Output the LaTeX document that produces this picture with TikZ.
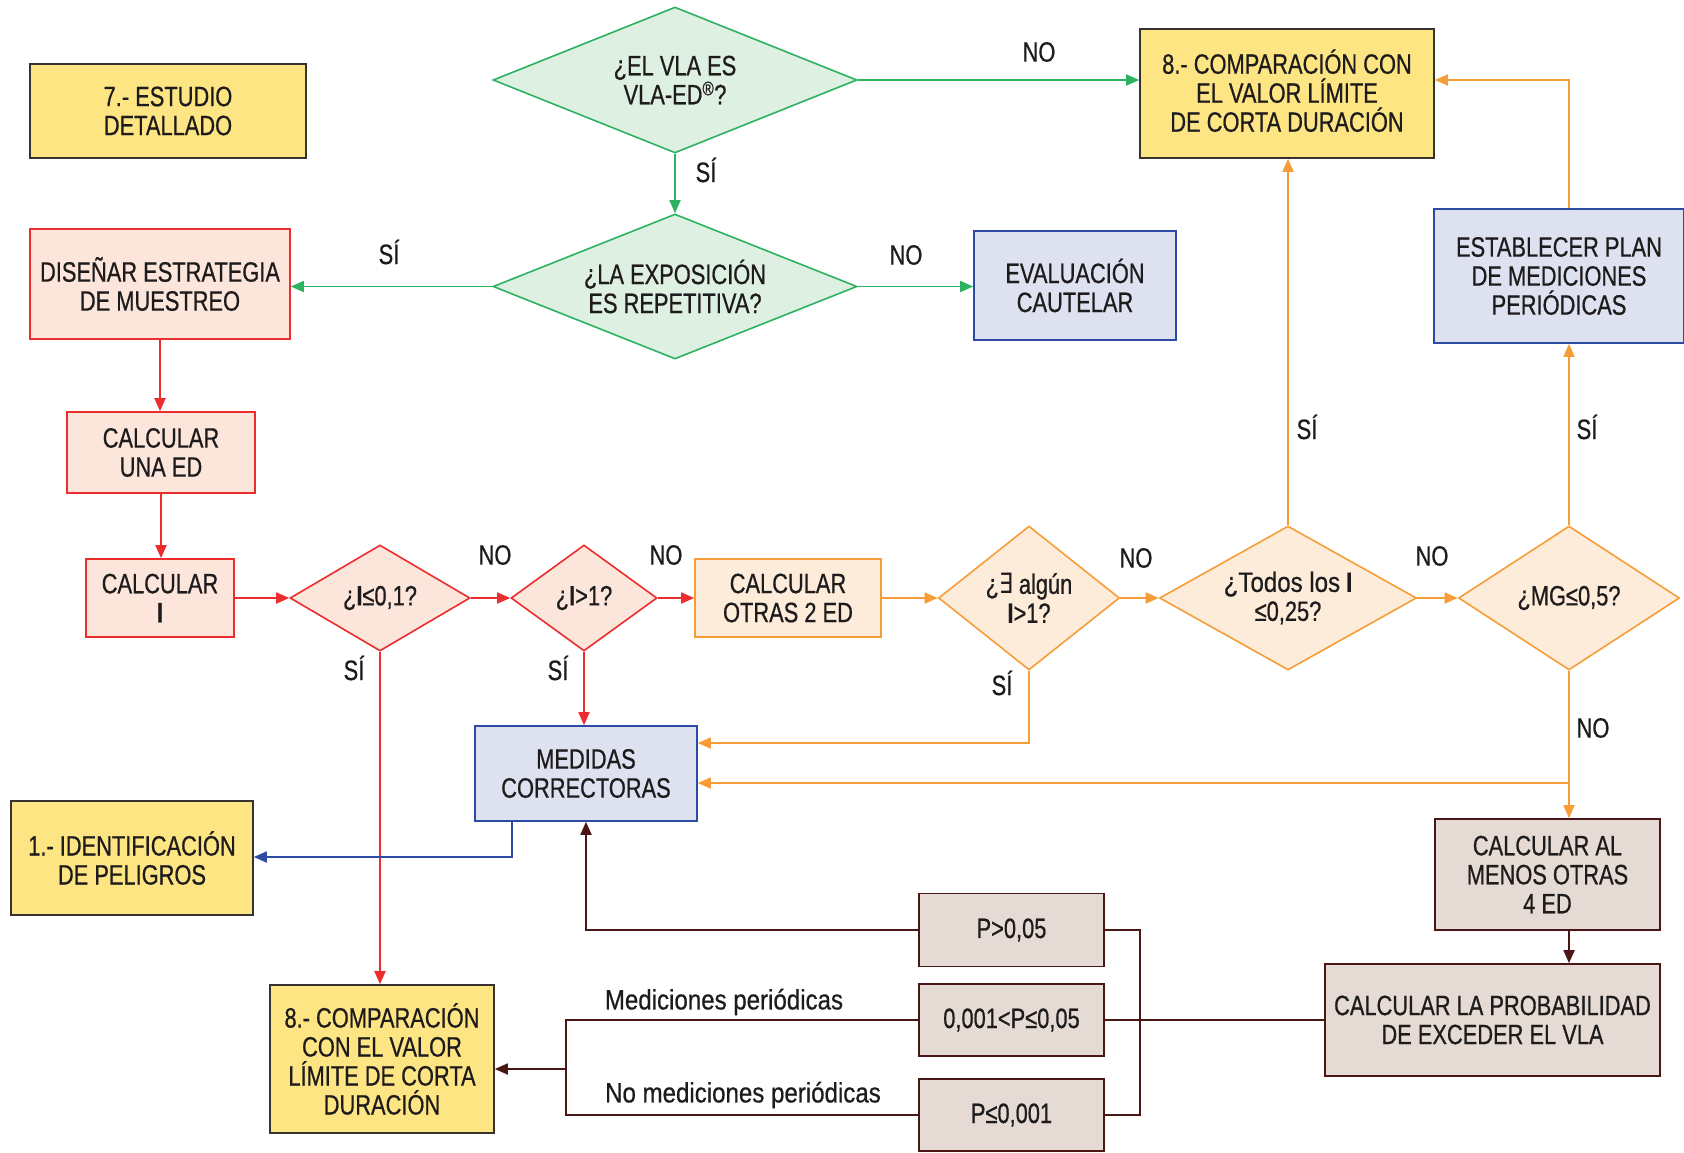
\documentclass[tikz,border=0pt]{standalone}
\usepackage{fontspec}
\setmainfont{Liberation Sans}[FakeStretch=0.78,FakeBold=0.6]
\newfontfamily\lblfont{Liberation Sans}[FakeStretch=0.86,FakeBold=0.6]
\newfontfamily\djv{DejaVu Sans}[FakeStretch=0.78]
\usetikzlibrary{shapes.geometric,arrows.meta}
\definecolor{txt}{RGB}{30,27,28}
\definecolor{yfill}{RGB}{254,229,132}
\definecolor{ydraw}{RGB}{55,50,45}
\definecolor{gfill}{RGB}{222,240,226}
\definecolor{gline}{RGB}{45,178,95}
\definecolor{pfill}{RGB}{252,230,220}
\definecolor{rline}{RGB}{236,45,45}
\definecolor{ofill}{RGB}{253,236,218}
\definecolor{oline}{RGB}{247,157,55}
\definecolor{bfill}{RGB}{222,225,240}
\definecolor{bline}{RGB}{45,75,165}
\definecolor{brfill}{RGB}{230,218,212}
\definecolor{brline}{RGB}{75,22,22}
\tikzset{
  every node/.style={font=\fontsize{28}{29}\selectfont, text=txt},
  box/.style={rectangle, draw, line width=1.6pt, align=center, inner sep=2pt},
  ybox/.style={box, fill=yfill, draw=ydraw},
  pbox/.style={box, fill=pfill, draw=rline},
  obox/.style={box, fill=ofill, draw=oline},
  bbox/.style={box, fill=bfill, draw=bline},
  brbox/.style={box, fill=brfill, draw=brline},
  dia/.style={diamond, draw, line width=1.6pt, align=center, inner sep=0pt, aspect=1.6},
  gdia/.style={dia, fill=gfill, draw=gline},
  pdia/.style={dia, fill=pfill, draw=rline},
  odia/.style={dia, fill=ofill, draw=oline},
  arr/.style={line width=1.8pt, -{Triangle[length=13pt,width=11pt]}},
  ln/.style={line width=1.8pt},
  lbl/.style={inner sep=0pt},
  sml/.style={inner sep=0pt, font=\lblfont\fontsize{28}{29}\selectfont},
}
\begin{document}
\begin{tikzpicture}[x=1pt,y=-1pt]
\useasboundingbox (0,0) rectangle (1684,1152);
% nodes
\node[ybox, minimum width=276pt, minimum height=94pt] (est7) at (168,111) {7.- ESTUDIO\\DETALLADO};
\node[gdia, minimum width=364pt, minimum height=146pt, aspect=2.5] (d1) at (675,80) {¿EL VLA ES\\VLA-ED\textsuperscript{®}?};
\node[ybox, minimum width=294pt, minimum height=129pt] (comp8t) at (1287,93.5) {8.- COMPARACIÓN CON\\EL VALOR LÍMITE\\DE CORTA DURACIÓN\vphantom{p}};
\node[gdia, minimum width=364pt, minimum height=145pt, aspect=2.5] (d2) at (675,286.5) {¿LA EXPOSICIÓN\\ES REPETITIVA?};
\node[pbox, minimum width=260pt, minimum height=110pt] (disenar) at (160,284) {DISEÑAR ESTRATEGIA\\DE MUESTREO};
\node[bbox, minimum width=202pt, minimum height=109pt] (evalc) at (1075,285.5) {EVALUACIÓN\\CAUTELAR};
\node[bbox, minimum width=250pt, minimum height=134pt] (estab) at (1559,276) {ESTABLECER PLAN\\DE MEDICIONES\\PERIÓDICAS};
\node[pbox, minimum width=188pt, minimum height=81pt] (calced) at (161,452.5) {CALCULAR\\UNA ED};
\node[pbox, minimum width=148pt, minimum height=78pt] (calci) at (160,598) {CALCULAR\\\textbf{I}};
\node[pdia, minimum width=180pt, minimum height=106pt, aspect=1.7] (d3) at (380,598) {¿\textbf{I}≤0,1?};
\node[pdia, minimum width=146pt, minimum height=106pt, aspect=1.4] (d4) at (584,598) {¿\textbf{I}>1?};
\node[obox, minimum width=186pt, minimum height=78pt] (calc2) at (788,598) {CALCULAR\\OTRAS 2 ED};
\node[odia, minimum width=181pt, minimum height=144pt, aspect=1.26] (d5) at (1029,598) {¿{\djv ∃} algún\\\textbf{I}>1?};
\node[odia, minimum width=257pt, minimum height=144pt, aspect=1.78] (d6) at (1288,598) {{\lblfont ¿Todos los} \textbf{I}\\≤0,25?};
\node[odia, minimum width=221pt, minimum height=144pt, aspect=1.53] (d7) at (1569,598) {¿MG≤0,5?};
\node[bbox, minimum width=222pt, minimum height=95pt] (medidas) at (586,773.5) {MEDIDAS\\CORRECTORAS};
\node[ybox, minimum width=242pt, minimum height=114pt] (ident1) at (132,858) {1.- IDENTIFICACIÓN\\DE PELIGROS};
\node[ybox, minimum width=224pt, minimum height=148pt] (comp8b) at (382,1059) {8.- COMPARACIÓN\\CON EL VALOR\\LÍMITE DE CORTA\\DURACIÓN};
\node[brbox, minimum width=225pt, minimum height=111pt] (calc4) at (1547.5,874.5) {CALCULAR AL\\MENOS OTRAS\\4 ED};
\node[brbox, minimum width=335pt, minimum height=112pt] (prob) at (1492.5,1020) {CALCULAR LA PROBABILIDAD\\DE EXCEDER EL VLA};
\node[brbox, minimum width=185pt, minimum height=73pt] (p1) at (1011.5,930) {P>0,05};
\node[brbox, minimum width=185pt, minimum height=72pt] (p2) at (1011.5,1020) {0,001<P≤0,05};
\node[brbox, minimum width=185pt, minimum height=72pt] (p3) at (1011.5,1115) {P≤0,001};
% coordinates
\coordinate (c1) at (1569,80);
\coordinate (c2) at (1029,743);
\coordinate (c3) at (1569,783);
\coordinate (c4) at (512,857);
\coordinate (c5) at (1140,1020);
\coordinate (c7) at (566,1069);
% green
\draw[arr, gline] (d1.east) -- (d1.east -| comp8t.west);
\draw[arr, gline] (d1.south) -- (d2.north);
\draw[arr, gline] (d2.west) -- (d2.west -| disenar.east);
\draw[arr, gline] (d2.east) -- (d2.east -| evalc.west);
% red
\draw[arr, rline] (disenar.south) -- (disenar.south |- calced.north);
\draw[arr, rline] (calced.south) -- (calced.south |- calci.north);
\draw[arr, rline] (calci.east) -- (d3.west);
\draw[arr, rline] (d3.east) -- (d4.west);
\draw[arr, rline] (d4.east) -- (calc2.west);
\draw[arr, rline] (d3.south) -- (d3.south |- comp8b.north);
\draw[arr, rline] (d4.south) -- (d4.south |- medidas.north);
% orange
\draw[arr, oline] (calc2.east) -- (d5.west);
\draw[arr, oline] (d5.east) -- (d6.west);
\draw[arr, oline] (d6.east) -- (d7.west);
\draw[arr, oline] (d6.north) -- (d6.north |- comp8t.south);
\draw[arr, oline] (d7.north) -- (d7.north |- estab.south);
\draw[arr, oline] (d7.north |- estab.north) -- (c1) -- (c1 -| comp8t.east);
\draw[arr, oline] (d5.south) -- (c2) -- (c2 -| medidas.east);
\draw[arr, oline] (d7.south) -- (d7.south |- calc4.north);
\draw[arr, oline] (c3) -- (c3 -| medidas.east);
% blue
\draw[arr, bline] (c4 |- medidas.south) -- (c4) -- (c4 -| ident1.east);
% brown
\draw[arr, brline] (d7.south |- calc4.south) -- (d7.south |- prob.north);
\draw[ln, brline] (prob.west) -- (prob.west -| p2.east);
\draw[ln, brline] (p1.east) -| (c5) |- (p3.east);
\draw[arr, brline] (p1.west) -| (medidas.south);
\draw[ln, brline] (p2.west) -| (c7) |- (p3.west);
\draw[arr, brline] (c7) -- (c7 -| comp8b.east);
% labels
\node[lbl] (l1) at (1039,52) {NO};
\node[lbl] (l2) at (706,170) {SÍ};
\node[lbl] (l3) at (389,252) {SÍ};
\node[lbl] (l4) at (906,255) {NO};
\node[lbl] (l5) at (495,555) {NO};
\node[lbl] (l6) at (666,555) {NO};
\node[lbl] (l7) at (354,668) {SÍ};
\node[lbl] (l8) at (558,668) {SÍ};
\node[lbl] (l9) at (1136,558) {NO};
\node[lbl] (l10) at (1432,556) {NO};
\node[lbl] (l11) at (1002,683) {SÍ};
\node[lbl] (l12) at (1307,427) {SÍ};
\node[lbl] (l13) at (1587,427) {SÍ};
\node[lbl] (l14) at (1593,728) {NO};
\node[sml] (l15) at (724,1002) {Mediciones periódicas};
\node[sml] (l16) at (743,1095) {No mediciones periódicas};
\end{tikzpicture}
\end{document}
